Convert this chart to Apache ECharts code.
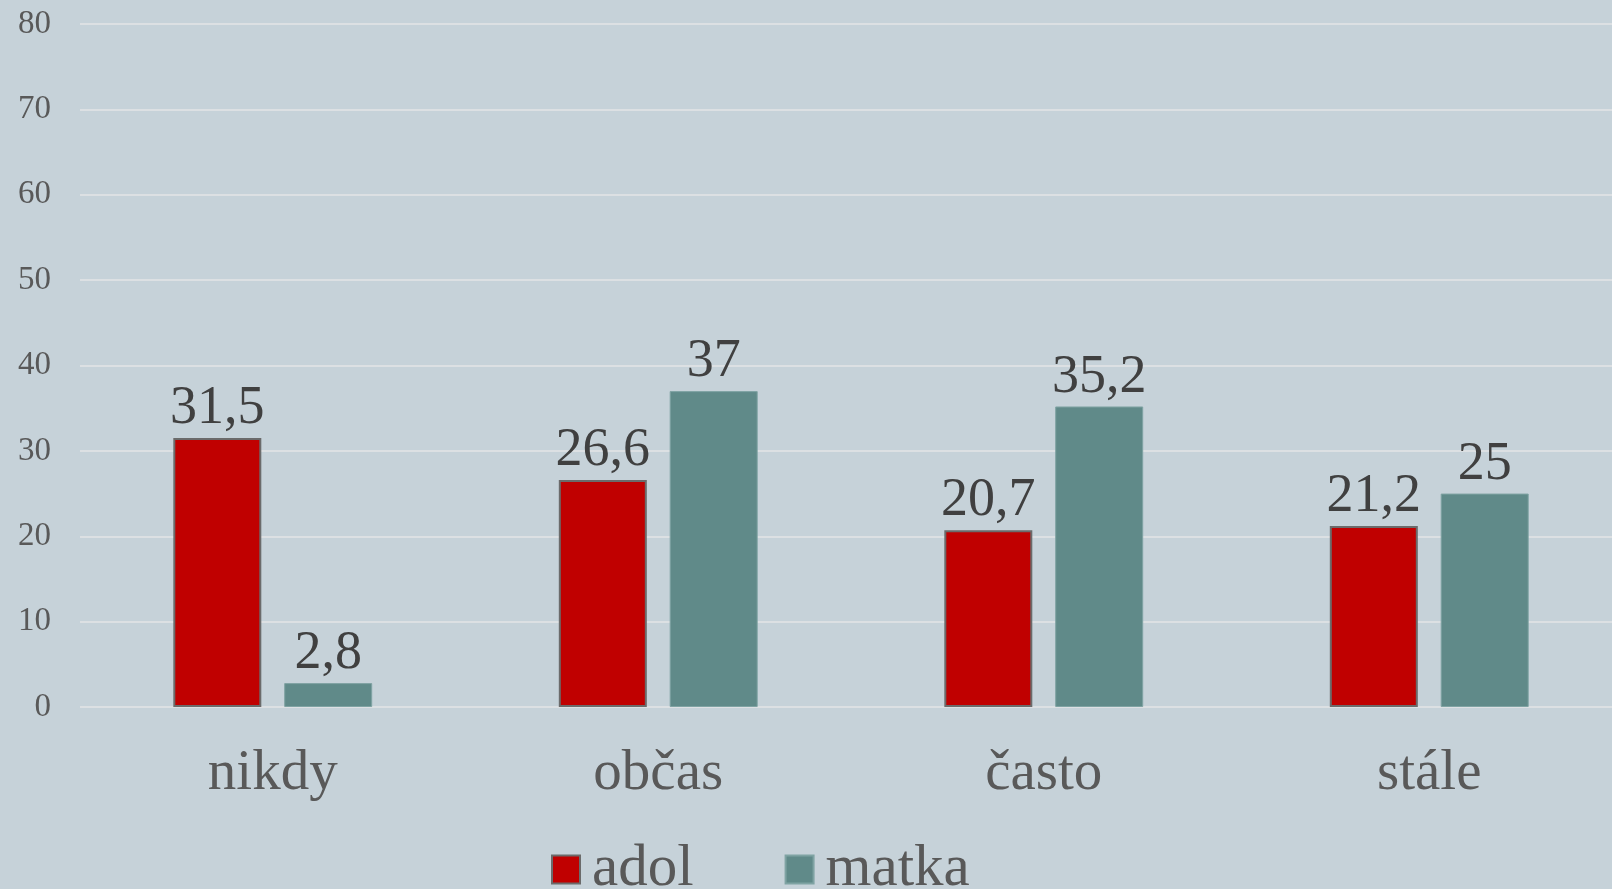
<!DOCTYPE html>
<html>
<head>
<meta charset="utf-8">
<script src="https://cdn.jsdelivr.net/npm/echarts@6/dist/echarts.min.js"></script>
<style>
html,body{margin:0;padding:0;background:#C6D2D9;}
#c{width:1612px;height:889px;}
</style>
</head>
<body>
<div id="c"></div>
<script>
const categories = ['nikdy', 'občas', 'často', 'stále'];
const adol = [31.5, 26.6, 20.7, 21.2];
const matka = [2.8, 37, 35.2, 25];
const yTicks = [0, 10, 20, 30, 40, 50, 60, 70, 80];

const FONT = '"Liberation Serif", "DejaVu Serif", serif';
const chart = echarts.init(document.getElementById('c'), null, {renderer: 'canvas'});
const lbl = {
  show: true, position: 'top', distance: 2,
  fontFamily: FONT, fontSize: 54, color: '#404040',
  formatter: p => String(p.value).replace('.', ',')
};
chart.setOption({
  backgroundColor: '#C6D2D9',
  animation: false,
  grid: {left: 80, width: 1542, top: 24, bottom: 182, containLabel: false, outerBoundsMode: 'none'},
  legend: {
    top: 835, left: 546,
    itemWidth: 28, itemHeight: 28, itemGap: 91,
    icon: 'rect',
    textStyle: {fontFamily: FONT, fontSize: 59, color: '#595959', padding: [0, 0, 0, 7]},
    data: ['adol', 'matka']
  },
  xAxis: {
    type: 'category', data: categories,
    axisLine: {show: false}, axisTick: {show: false},
    axisLabel: {fontFamily: FONT, fontSize: 57, color: '#595959', margin: 39}
  },
  yAxis: {
    type: 'value', min: yTicks[0], max: yTicks[yTicks.length - 1], interval: 10,
    axisLine: {show: false}, axisTick: {show: false},
    axisLabel: {fontFamily: FONT, fontSize: 33, color: '#595959', margin: 29},
    splitLine: {lineStyle: {color: '#DCE0E3', width: 2}}
  },
  series: [
    {
      name: 'adol', type: 'bar', data: adol, barWidth: 88, barGap: '26%',
      itemStyle: {color: '#C00000', borderColor: '#6B6B6B', borderWidth: 2},
      label: lbl
    },
    {
      name: 'matka', type: 'bar', data: matka, barWidth: 88,
      itemStyle: {color: '#608A89', borderColor: '#7FA3A3', borderWidth: 1},
      label: lbl
    }
  ]
});
</script>
</body>
</html>
